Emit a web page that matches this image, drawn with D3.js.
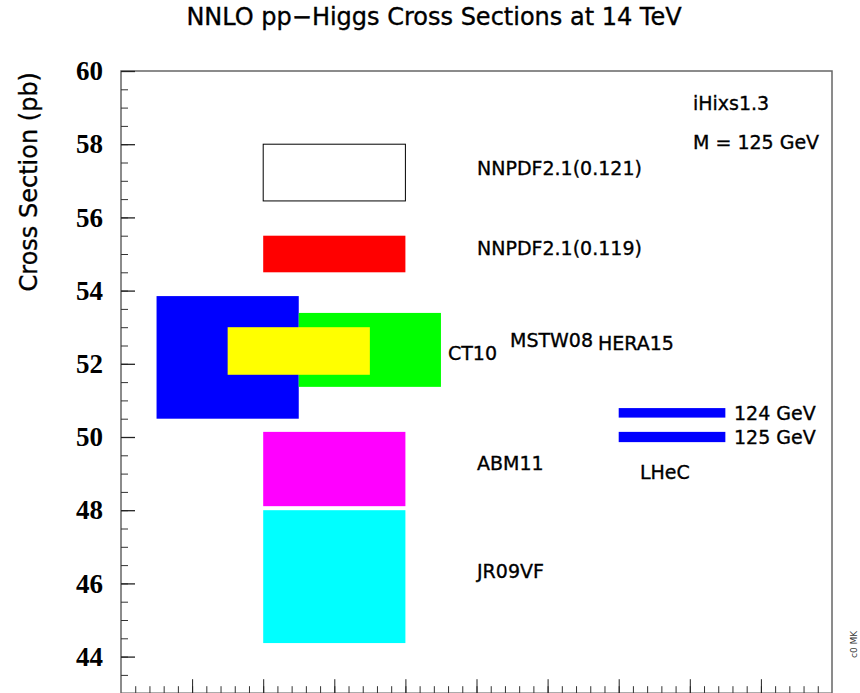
<!DOCTYPE html>
<html>
<head>
<meta charset="utf-8">
<script src="https://cdn.jsdelivr.net/npm/d3@7"></script>
<style>
  body { margin: 0; background: #fff; }
  svg { display: block; }
</style>
</head>
<body>
<div id="chart"></div>
<script>
// Data
const pdfSets = ["NNPDF2.1(0.121)", "NNPDF2.1(0.119)", "MSTW08", "CT10", "HERA15", "ABM11", "JR09VF"];
const boxXLo = [2, 2, 0.5, 2.5, 1.5, 2, 2];
const boxXHi = [4, 4, 2.5, 4.5, 3.5, 4, 4];
const sigmaLo = [56.45, 54.5, 50.5, 51.37, 51.7, 48.11, 44.37];
const sigmaHi = [58.0, 55.5, 53.85, 53.39, 53.0, 50.14, 48.0];
const boxColors = ["#ffffff", "#ff0000", "#0000ff", "#00ff00", "#ffff00", "#ff00ff", "#00ffff"];

const lhecMasses = ["124 GeV", "125 GeV"];
const lhecLo = [50.53, 49.86];
const lhecHi = [50.79, 50.14];

const yTicks = [44, 46, 48, 50, 52, 54, 56, 58, 60];

// Dimensions
const W = 860, H = 693;
const plot = { left: 121, right: 832, top: 71, bottom: 693.2 };

const svg = d3.select("#chart")
    .append("svg")
    .attr("width", W)
    .attr("height", H);

const x = d3.scaleLinear().domain([0, 10]).range([plot.left, plot.right]);
const y = d3.scaleLinear().domain([43, 60]).range([plot.bottom, plot.top]);

const sans = "'DejaVu Sans', sans-serif";

// helper for the slightly heavy ROOT-like text
function label(sel, size) {
    return sel.style("font-family", sans)
        .style("font-size", size + "px")
        .attr("fill", "#000")
        .attr("stroke", "#000")
        .attr("stroke-width", 0.35);
}

// Boxes
pdfSets.forEach((name, i) => {
    svg.append("rect")
        .attr("x", x(boxXLo[i]))
        .attr("y", y(sigmaHi[i]))
        .attr("width", x(boxXHi[i]) - x(boxXLo[i]))
        .attr("height", y(sigmaLo[i]) - y(sigmaHi[i]))
        .attr("fill", boxColors[i])
        .attr("stroke", i === 0 ? "#000" : "none")
        .attr("stroke-width", 1);
});

// LHeC bars
lhecMasses.forEach((m, i) => {
    svg.append("rect")
        .attr("x", x(7))
        .attr("y", y(lhecHi[i]))
        .attr("width", x(8.5) - x(7))
        .attr("height", y(lhecLo[i]) - y(lhecHi[i]))
        .attr("fill", "#0000ff");
    svg.append("text")
        .attr("x", 734)
        .attr("y", y((lhecLo[i] + lhecHi[i]) / 2))
        .attr("dy", "0.36em")
        .call(label, 19)
        .text(m);
});

// Labels next to boxes
const labels = [
    { t: "NNPDF2.1(0.121)", x: 477, y: 168 },
    { t: "NNPDF2.1(0.119)", x: 477, y: 248 },
    { t: "CT10", x: 448, y: 353 },
    { t: "MSTW08", x: 510, y: 340 },
    { t: "HERA15", x: 598, y: 343 },
    { t: "ABM11", x: 477, y: 463 },
    { t: "JR09VF", x: 477, y: 571 },
    { t: "LHeC", x: 640, y: 472 },
    { t: "iHixs1.3", x: 693, y: 103 },
    { t: "M = 125 GeV", x: 693, y: 142 }
];
labels.forEach(l => {
    svg.append("text")
        .attr("x", l.x)
        .attr("y", l.y)
        .attr("dy", "0.36em")
        .call(label, 19)
        .text(l.t);
});

// Frame
svg.append("rect")
    .attr("x", plot.left)
    .attr("y", plot.top)
    .attr("width", plot.right - plot.left)
    .attr("height", plot.bottom - plot.top)
    .attr("fill", "none")
    .attr("stroke", "#666")
    .attr("stroke-width", 1.5);

// Y axis: minor then major
svg.append("g")
    .attr("transform", `translate(${plot.left},0)`)
    .call(d3.axisLeft(y).tickValues(d3.range(43.5, 60, 0.5)).tickSize(-7).tickFormat(""))
    .call(g => g.select(".domain").remove())
    .selectAll("line").attr("stroke", "#333");

svg.append("g")
    .attr("transform", `translate(${plot.left},0)`)
    .call(d3.axisLeft(y).tickValues(yTicks).tickSize(-14).tickPadding(18))
    .call(g => g.select(".domain").remove())
    .call(g => g.selectAll("line").attr("stroke", "#222").attr("stroke-width", 1.3))
    .selectAll("text")
    .style("font-family", "'Liberation Serif', 'Times New Roman', serif")
    .style("font-weight", "bold")
    .style("font-size", "27px")
    .attr("fill", "#000");

// X axis (bottom, ticks pointing up, no labels)
svg.append("g")
    .attr("transform", `translate(0,${plot.bottom})`)
    .call(d3.axisBottom(x).tickValues(d3.range(0.2, 10, 0.2)).tickSize(-7).tickFormat(""))
    .call(g => g.select(".domain").remove())
    .selectAll("line").attr("stroke", "#333");

svg.append("g")
    .attr("transform", `translate(0,${plot.bottom})`)
    .call(d3.axisBottom(x).tickValues(d3.range(1, 10, 1)).tickSize(-14).tickFormat(""))
    .call(g => g.select(".domain").remove())
    .selectAll("line").attr("stroke", "#222");

// Title
svg.append("text")
    .attr("x", 434)
    .attr("y", 25)
    .attr("text-anchor", "middle")
    .call(label, 24)
    .text("NNLO pp\u2212Higgs Cross Sections at 14 TeV");

// Y axis title
svg.append("text")
    .attr("transform", "translate(37,72) rotate(-90)")
    .attr("text-anchor", "end")
    .call(label, 24)
    .text("Cross Section (pb)");

// Corner tag
svg.append("text")
    .attr("transform", "translate(857,658) rotate(-90)")
    .style("font-family", sans)
    .style("font-size", "9px")
    .attr("fill", "#333")
    .text("c0 MK");
</script>
</body>
</html>
